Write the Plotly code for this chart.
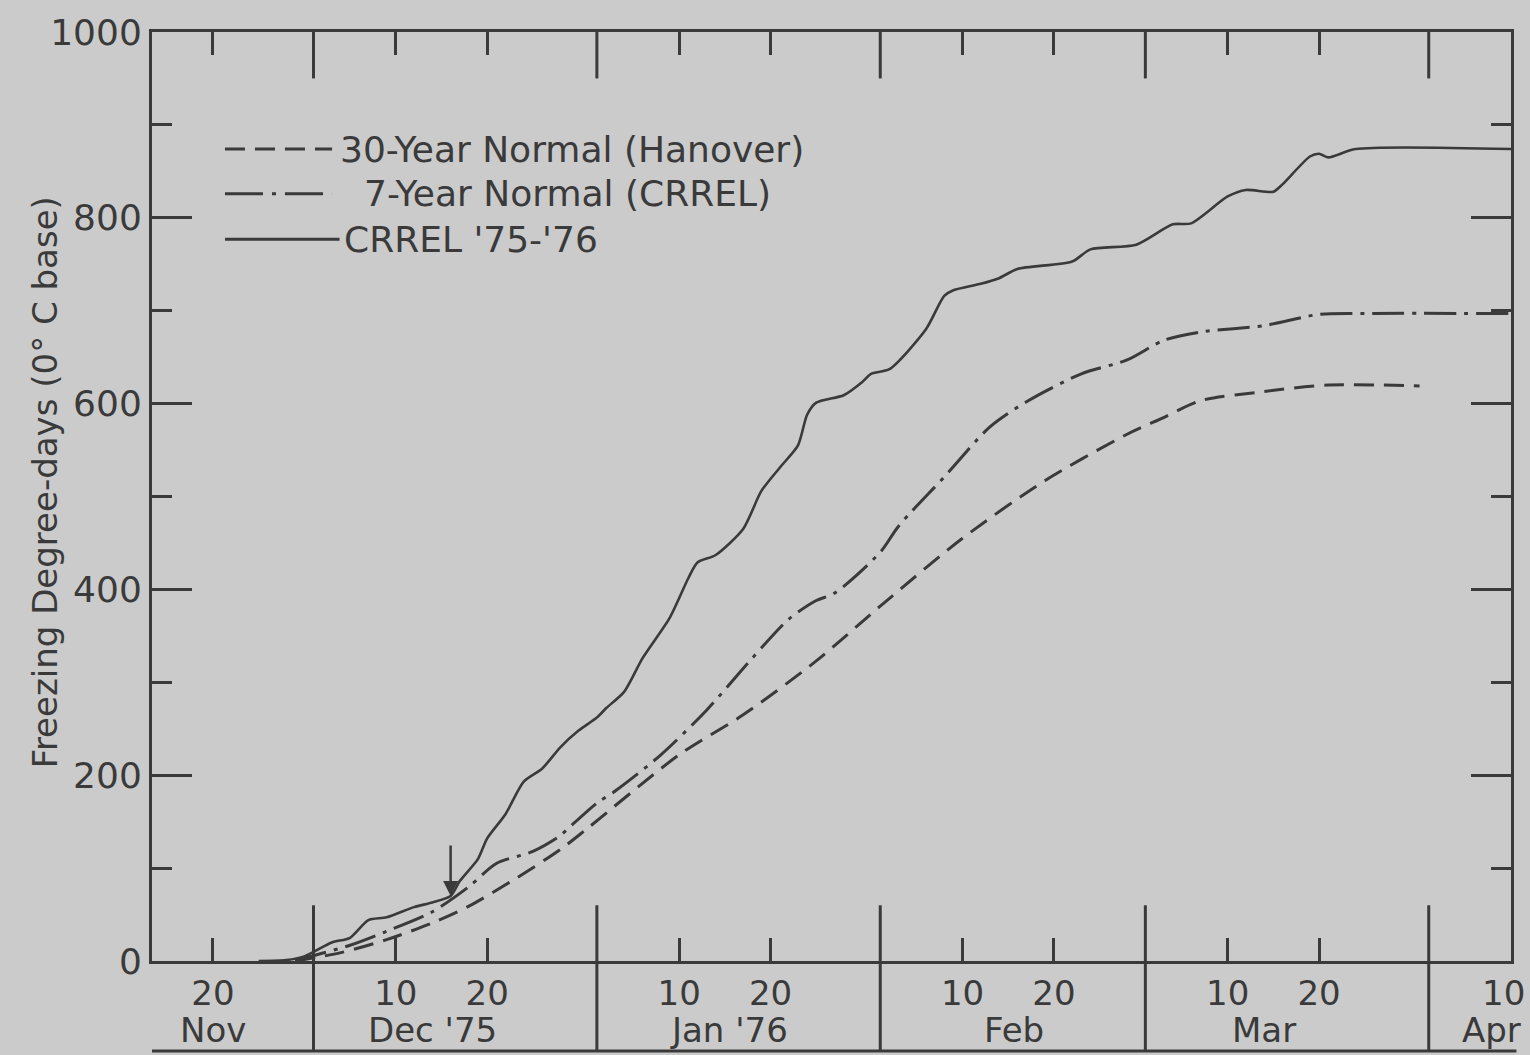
import pandas as pd
import plotly.graph_objects as go

# ---- data ---------------------------------------------------------------
crrel_dates = [
    "1975-11-25", "1975-11-28", "1975-11-30", "1975-12-03", "1975-12-05",
    "1975-12-07", "1975-12-09", "1975-12-12", "1975-12-14", "1975-12-16",
    "1975-12-17", "1975-12-19", "1975-12-20", "1975-12-22", "1975-12-24",
    "1975-12-26", "1975-12-28", "1975-12-30", "1976-01-01", "1976-01-02",
    "1976-01-04", "1976-01-06", "1976-01-09", "1976-01-11", "1976-01-12",
    "1976-01-14", "1976-01-17", "1976-01-19", "1976-01-21", "1976-01-23",
    "1976-01-24", "1976-01-25", "1976-01-28", "1976-01-30", "1976-01-31",
    "1976-02-02", "1976-02-06", "1976-02-08", "1976-02-09", "1976-02-12",
    "1976-02-14", "1976-02-16", "1976-02-22", "1976-02-24", "1976-02-29",
    "1976-03-04", "1976-03-06", "1976-03-10", "1976-03-12", "1976-03-15",
    "1976-03-16", "1976-03-19", "1976-03-20", "1976-03-21", "1976-03-24",
    "1976-04-10",
]
crrel_fdd = [
    0, 1, 5, 20, 25,
    44, 47, 58, 63, 70,
    86, 110, 132, 158, 193,
    207, 230, 248, 262, 272,
    290, 326, 370, 412, 429,
    437, 465, 506, 531, 555,
    588, 601, 609, 623, 632,
    637, 680, 716, 722, 729,
    735, 745, 753, 766, 771,
    793, 794, 823, 830, 828,
    836, 866, 869, 865, 874,
    874,
]

normal7_dates = [
    "1975-11-29", "1975-11-30", "1975-12-05", "1975-12-09", "1975-12-14",
    "1975-12-18", "1975-12-21", "1975-12-25", "1975-12-28", "1975-12-29",
    "1976-01-01", "1976-01-03", "1976-01-08", "1976-01-13", "1976-01-18",
    "1976-01-22", "1976-01-25", "1976-01-27", "1976-02-01", "1976-02-03",
    "1976-02-08", "1976-02-13", "1976-02-17", "1976-02-23", "1976-02-28",
    "1976-03-03", "1976-03-07", "1976-03-14", "1976-03-20", "1976-03-25",
    "1976-04-10",
]
normal7_fdd = [
    0, 3, 17, 32, 53,
    80, 105, 118, 135, 144,
    170, 183, 222, 270, 326,
    368, 388, 396, 440, 468,
    521, 575, 602, 632, 647,
    668, 677, 684, 696, 697,
    697,
]

normal30_dates = [
    "1975-11-29", "1975-12-04", "1975-12-09", "1975-12-14", "1975-12-18",
    "1975-12-23", "1975-12-28", "1975-12-31", "1976-01-10", "1976-01-17",
    "1976-01-25", "1976-02-01", "1976-02-10", "1976-02-19", "1976-02-28",
    "1976-03-03", "1976-03-07", "1976-03-14", "1976-03-21", "1976-03-31",
]
normal30_fdd = [
    0, 9, 23, 41, 59,
    88, 120, 143, 222, 265,
    323, 382, 455, 517, 567,
    585, 603, 613, 620, 619,
]

day_ticks = ["1975-11-20", "1975-12-10", "1975-12-20", "1976-01-10", "1976-01-20",
             "1976-02-10", "1976-02-20", "1976-03-10", "1976-03-20", "1976-04-10"]
day_labels = ["20", "10", "20", "10", "20", "10", "20", "10", "20", ""]

month_starts = ["1975-12-01", "1976-01-01", "1976-02-01", "1976-03-01", "1976-04-01"]
month_names = ["Nov", "Dec '75", "Jan '76", "Feb", "Mar", "Apr"]
month_label_x = ["1975-11-20", "1975-12-14", "1976-01-15 12:00", "1976-02-15 16:00",
                 "1976-03-14", "1976-04-07 20:00"]

series_names = ["30-Year Normal (Hanover)", " 7-Year Normal (CRREL)", "CRREL '75-'76"]

# ---- style -----------------------------------------------------------------
BG = "#cbcbcb"
INK = "#3a3a3a"
FONT = "DejaVu Sans"
DASH = "20px,10px"
DASHDOT = "32px,8px,4px,8px"

fig = go.Figure()

fig.add_trace(go.Scatter(
    x=pd.to_datetime(normal30_dates), y=normal30_fdd, mode="lines",
    line=dict(color=INK, width=3, dash=DASH, shape="spline", smoothing=0.8),
    showlegend=False,
))
fig.add_trace(go.Scatter(
    x=pd.to_datetime(normal7_dates), y=normal7_fdd, mode="lines",
    line=dict(color=INK, width=3, dash=DASHDOT, shape="spline", smoothing=0.8),
    showlegend=False,
))
fig.add_trace(go.Scatter(
    x=pd.to_datetime(crrel_dates), y=crrel_fdd, mode="lines",
    line=dict(color=INK, width=2.6, shape="spline", smoothing=0.7),
    showlegend=False,
))

shapes = []
# month separators below the axis + long ticks at the top
for m in month_starts:
    shapes.append(dict(type="line", xref="x", yref="paper", x0=m, x1=m,
                       y0=-0.097, y1=0.06, line=dict(color=INK, width=3)))
    shapes.append(dict(type="line", xref="x", yref="paper", x0=m, x1=m,
                       y0=0.95, y1=1.0, line=dict(color=INK, width=3)))
# bottom rule of the date strip
shapes.append(dict(type="line", xref="paper", yref="paper", x0=0, x1=1.004,
                   y0=-0.097, y1=-0.097, line=dict(color=INK, width=3)))

# hand-drawn style legend
legend_y = [0.874, 0.826, 0.777]
legend_dash = [DASH, "38px,9px,4px,9px", "solid"]
legend_x1 = [0.1325, 0.1325, 0.138]
legend_tx = [0.1369, 0.1545, 0.1398]
annotations = []
for name, ly, ld, lx1, tx in zip(series_names, legend_y, legend_dash, legend_x1, legend_tx):
    shapes.append(dict(type="line", xref="paper", yref="paper", x0=0.0537, x1=lx1,
                       y0=ly, y1=ly, line=dict(color=INK, width=3, dash=ld)))
    annotations.append(dict(xref="paper", yref="paper", x=tx, y=ly, text=name.strip(),
                            showarrow=False, xanchor="left", yanchor="middle",
                            font=dict(size=36, color=INK, family=FONT)))

for name, mx in zip(month_names, month_label_x):
    annotations.append(dict(xref="x", yref="paper", x=mx, y=-0.074, text=name,
                            showarrow=False, xanchor="center", yanchor="middle",
                            font=dict(size=34, color=INK, family=FONT)))

# last day label sits flush with the right edge
annotations.append(dict(xref="x", yref="paper", x=day_ticks[-1], y=-0.034, text="10",
                        showarrow=False, xanchor="right", yanchor="middle", xshift=16,
                        font=dict(size=34, color=INK, family=FONT)))

# arrow marking mid-December
annotations.append(dict(xref="x", yref="y", x="1975-12-16", y=70, text="",
                        showarrow=True, ax=0, ay=-52, arrowhead=2, arrowsize=1.2,
                        arrowwidth=2.5, arrowcolor=INK, standoff=0))

# y-axis title
annotations.append(dict(xref="paper", yref="paper", x=-0.079, y=0.515,
                        text="Freezing Degree-days (0° C base)", textangle=-90,
                        showarrow=False, xanchor="center", yanchor="middle",
                        font=dict(size=34, color=INK, family=FONT)))

fig.update_layout(
    width=1530, height=1055,
    paper_bgcolor=BG, plot_bgcolor=BG,
    margin=dict(l=152, r=19, t=30, b=94),
    font=dict(family=FONT, color=INK, size=36),
    shapes=shapes, annotations=annotations,
    showlegend=False,
    xaxis=dict(
        type="date", range=["1975-11-13 08:00", "1976-04-10"],
        tickvals=day_ticks, ticktext=day_labels,
        ticks="inside", ticklen=23, tickwidth=3, tickcolor=INK,
        showline=True, linewidth=3, linecolor=INK, mirror="ticks",
        showgrid=False, zeroline=False,
        tickfont=dict(size=34, color=INK),
    ),
    yaxis=dict(
        range=[0, 1000], tickvals=[0, 200, 400, 600, 800, 1000],
        ticks="inside", ticklen=40, tickwidth=3, tickcolor=INK,
        minor=dict(dtick=100, ticks="inside", ticklen=20, tickwidth=3, tickcolor=INK),
        showline=True, linewidth=3, linecolor=INK, mirror="ticks",
        showgrid=False, zeroline=False,
        tickfont=dict(size=36, color=INK),
    ),
)

fig.write_html("out.html", config={"displayModeBar": False},
               post_script=["document.body.style.margin='0';"])
